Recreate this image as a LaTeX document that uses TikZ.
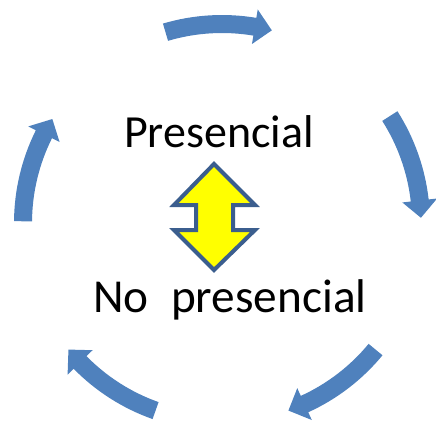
\documentclass[tikz,border=0pt]{standalone}
\usepackage{fontspec}
\setmainfont{Carlito}
\definecolor{cyc}{HTML}{4F81BD}
\definecolor{dbl}{HTML}{3B5E8E}
\definecolor{yel}{HTML}{FFFF00}
\newcommand{\cycarrow}[1]{%
  \pgfmathsetmacro{\aS}{#1+15.5}%
  \pgfmathsetmacro{\aE}{#1-15.5}%
  \pgfmathsetmacro{\aH}{#1-15.5+5}%
  \fill[cyc] (\aS:208pt) arc[start angle=\aS, end angle=\aH, radius=208pt]
    -- (\aH:216.5pt) -- (\aE:199pt) -- (\aH:181.5pt) -- (\aH:190pt)
    arc[start angle=\aH, end angle=\aS, radius=190pt] -- cycle;}
\begin{document}
\begin{tikzpicture}[x=1pt,y=1pt,
  lbl/.style={font=\fontsize{46}{50}\selectfont, anchor=base, inner sep=0pt}]
\useasboundingbox (0,0) rectangle (436,424);
\begin{scope}[shift={(222,201)}]
  \cycarrow{91}
  \cycarrow{17}
  \cycarrow{-55}
  \cycarrow{-125}
  \cycarrow{164}
\end{scope}
\fill[yel, draw=dbl, line width=4pt, line join=miter]
  (214,260) -- (255,219) -- (233,219) -- (233,194) -- (255,194) -- (214,154)
  -- (174,194) -- (196,194) -- (196,219) -- (174,219) -- cycle;
\node[lbl] (pres) at (219,277) {Presencial};
\node[lbl, anchor=base west, font=\fontsize{47.3}{51}\selectfont] (nopres) at (93,112) {No\ \hspace{1pt}\ presencial};
\end{tikzpicture}
\end{document}
